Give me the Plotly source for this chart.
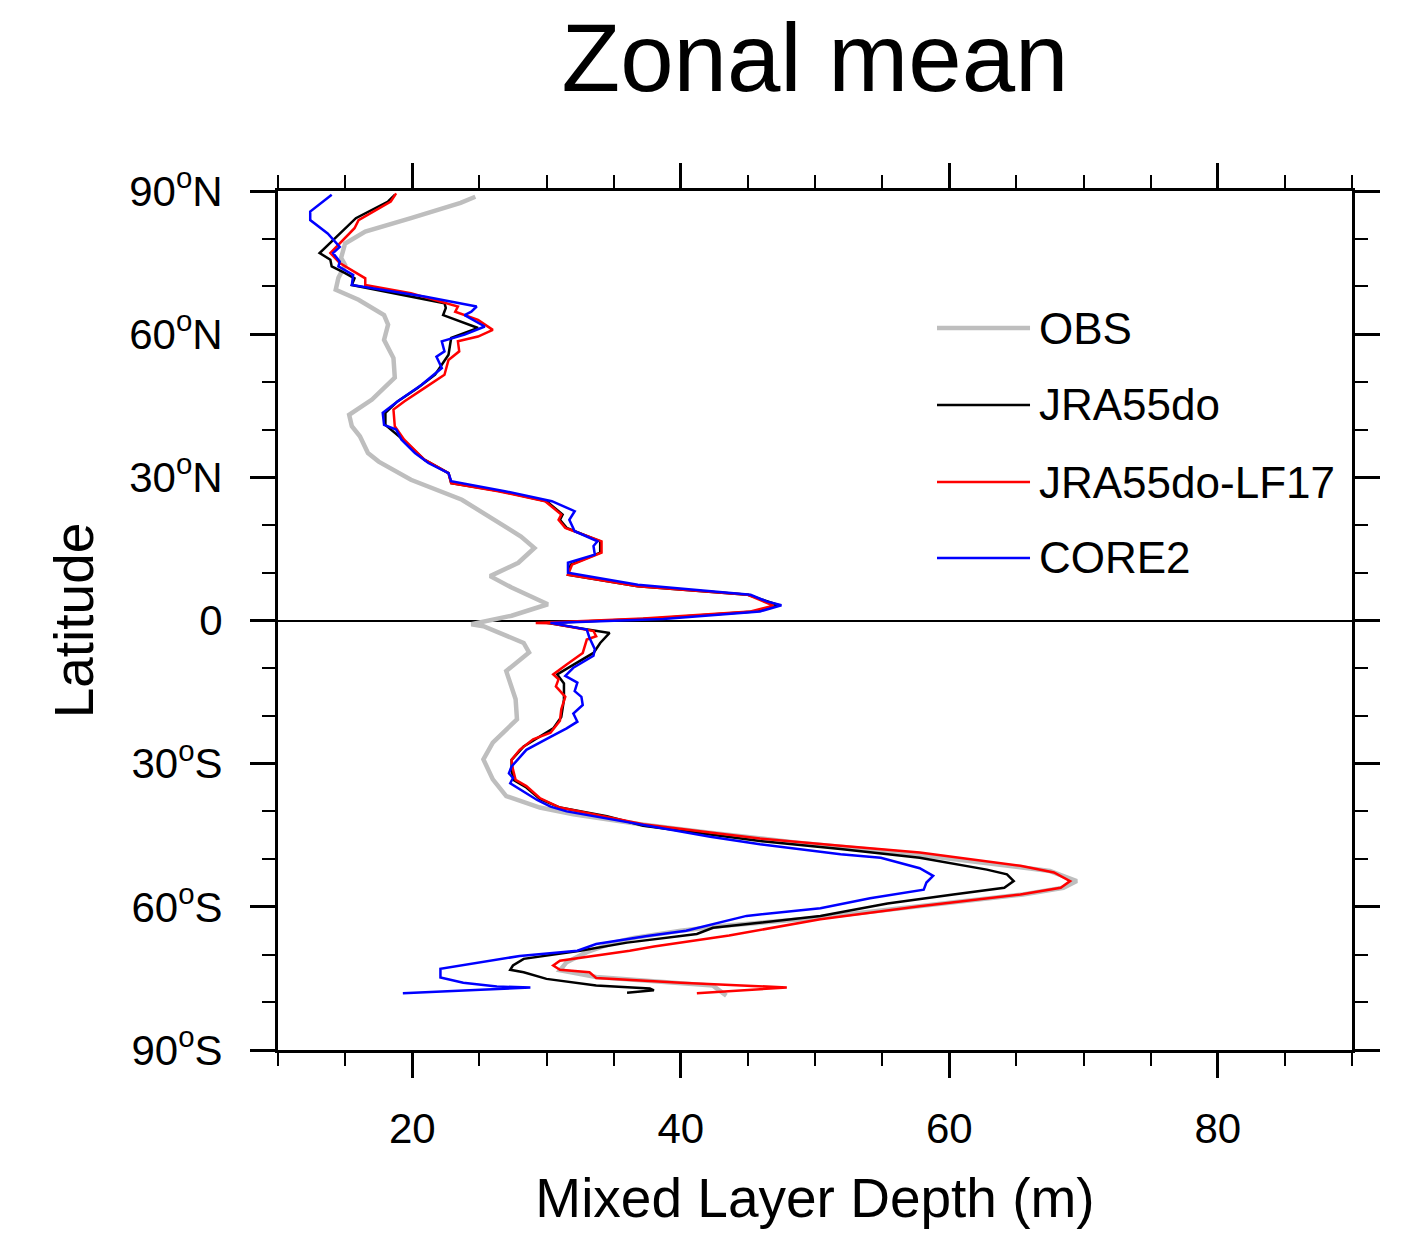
import plotly.graph_objects as go

# ---------------- data (latitude in degrees, MLD in m) ----------------
obs_lat = [88.8, 87.5, 84.3, 81.5, 79.0, 76.0, 74.5, 71.8, 69.3, 67.2, 64.0, 62.0, 58.8, 55.0, 50.9,
           46.3, 43.1, 40.7, 38.6, 35.1, 33.3, 29.5, 25.3, 21.1, 17.6, 15.2, 12.1, 9.3, 6.9, 3.4, 1.0,
           -0.8, -1.2, -4.7, -6.7, -10.6, -12.3, -16.5, -20.7, -25.6, -29.1, -33.3, -36.8, -39.2, -40.6,
           -42.7, -44.4, -46.5, -48.5, -50.5, -52.5, -54.6, -56.0, -57.4, -60.0, -62.5, -64.0, -65.0,
           -66.5, -67.5, -69.5, -71.6, -73.3, -74.7, -76.5, -78.6]
obs_mld = [24.7, 23.6, 19.9, 16.5, 15.0, 14.7, 15.0, 14.5, 14.3, 16.0, 17.9, 18.2, 17.9, 18.6, 18.7,
           17.0, 15.3, 15.5, 16.1, 16.7, 17.5, 19.9, 23.7, 26.1, 28.1, 29.1, 27.9, 25.8, 27.4, 30.1, 27.4,
           24.4, 25.3, 28.3, 28.7, 27.0, 27.2, 27.7, 27.8, 26.0, 25.3, 26.0, 27.0, 29.5, 32.0,
           37.0, 42.0, 48.5, 56.0, 62.0, 67.5, 69.5, 68.5, 65.5, 57.5, 49.5, 43.0, 40.0,
           36.5, 35.0, 33.0, 31.5, 31.0, 33.7, 42.4, 43.4]

jra_lat = [89.2, 87.8, 84.3, 82.2, 80.1, 77.0, 75.6, 74.2, 72.8, 71.7, 70.3, 68.2, 66.5, 65.5, 64.0,
           61.3, 59.2, 55.7, 51.5, 48.7, 45.9, 43.5, 41.0, 37.9, 33.7, 30.9, 28.8, 27.1, 25.0, 22.2,
           21.1, 19.4, 16.6, 14.2, 11.7, 9.6, 7.2, 5.4, 3.2, 1.9, 0.4, -0.5, -2.6, -4.7, -6.8, -9.6,
           -11.3, -13.2, -16.6, -20.2, -22.6, -26.4, -29.2, -31.5, -33.5, -35.0, -37.4, -39.2, -41.0,
           -43.0, -44.8, -46.2, -47.9, -49.7, -52.2, -53.2, -54.6, -56.0, -57.4, -59.3, -61.9, -63.5,
           -64.4, -65.7, -67.5, -69.2, -70.9, -72.3, -73.2, -73.7, -75.1, -76.5, -77.1, -77.5, -78.0]
jra_mld = [18.7, 18.2, 15.8, 15.0, 14.2, 13.1, 13.9, 14.0, 15.0, 15.7, 15.5, 19.4, 22.4, 22.5, 22.3,
           24.9, 22.9, 22.7, 21.7, 20.4, 18.9, 18.0, 18.0, 19.3, 20.9, 22.7, 22.9, 26.6, 30.0, 31.2,
           31.0, 31.5, 34.0, 34.0, 31.8, 31.6, 36.8, 45.0, 47.3, 45.5, 38.0, 30.0, 34.7, 34.0, 33.5, 31.8,
           30.8, 31.3, 31.3, 31.1, 30.5, 28.3, 27.4, 27.4, 27.6, 28.5, 29.5, 31.0, 34.5,
           37.2, 42.2, 45.9, 51.9, 57.8, 62.8, 64.3, 64.8, 64.1, 60.3, 55.4, 50.4, 45.0,
           42.4, 41.2, 36.0, 32.5, 28.3, 27.5, 27.3, 28.3, 30.0, 33.7, 37.7, 38.0, 36.0]

lf17_lat = [89.5, 87.8, 83.9, 82.2, 77.0, 74.9, 71.7, 70.3, 68.6, 65.8, 64.7, 63.0, 60.9, 59.5, 58.5,
            56.4, 54.6, 51.5, 48.7, 45.9, 44.2, 40.7, 37.9, 33.7, 30.9, 28.8, 27.1, 25.0, 22.2, 21.1,
            19.4, 16.6, 14.2, 11.7, 9.6, 7.2, 5.4, 3.1, 1.9, 0.4, -0.5, -0.6, -2.2, -3.3, -4.0, -6.8,
            -9.2, -11.3, -12.3, -13.8, -16.0, -18.6, -21.0, -23.5, -24.9, -27.1, -29.2, -31.2, -33.4,
            -34.7, -37.2, -39.2, -40.6, -42.7, -44.4, -45.7, -47.2, -48.6, -51.4, -52.8, -54.6, -56.0,
            -57.4, -59.9, -62.6, -65.4, -66.0, -68.3, -69.2, -71.3, -72.3, -73.2, -73.7, -74.9, -75.9,
            -76.9, -78.1]
lf17_mld = [18.8, 18.4, 16.0, 15.7, 13.9, 14.6, 16.5, 16.5, 19.9, 23.4, 23.2, 24.9, 26.0, 24.9, 23.4,
            23.5, 22.7, 22.4, 20.9, 19.4, 18.6, 18.7, 19.4, 20.9, 22.7, 22.9, 26.4, 29.9, 31.1, 30.9,
            31.4, 34.1, 34.1, 31.9, 31.6, 36.8, 45.0, 46.9, 45.2, 37.2, 29.2, 30.3, 33.5, 33.7, 33.0, 32.7,
            31.5, 30.5, 30.9, 30.7, 31.4, 31.1, 31.0, 30.3, 29.0, 28.0, 27.4, 27.5, 27.7,
            28.5, 29.5, 31.0, 33.5, 37.2, 42.2, 45.9, 51.9, 57.8, 65.3, 67.8, 69.0, 68.3,
            65.3, 57.8, 50.4, 44.9, 43.6, 38.0, 36.2, 31.0, 30.5, 31.0, 33.2, 33.7, 40.0,
            47.9, 41.2]

core_lat = [89.2, 85.7, 83.9, 81.1, 78.3, 77.0, 75.2, 74.2, 72.4, 70.3, 67.9, 65.8, 64.7, 64.0, 61.6,
            59.9, 58.5, 56.4, 55.3, 52.9, 49.4, 45.9, 43.5, 41.0, 40.0, 37.9, 35.1, 33.0, 30.9, 29.2,
            27.1, 25.0, 22.9, 21.1, 18.7, 16.6, 15.6, 13.8, 12.1, 10.0, 7.5, 5.4, 4.0, 3.2, 1.9, 0.9, 0.3,
            -0.5, -1.9, -3.6, -6.0, -7.4, -9.9, -11.6, -13.0, -14.8, -16.0, -17.7, -19.5, -21.2, -22.6,
            -24.4, -27.1, -30.6, -32.0, -33.0, -34.1, -37.6, -39.0, -40.0, -42.7, -45.3, -46.9, -49.0,
            -49.7, -51.9, -53.5, -54.9, -56.4, -58.2, -60.3, -61.9, -65.0, -66.1, -67.8, -69.2, -70.3,
            -72.0, -73.0, -74.8, -75.9, -76.7, -76.9, -77.4, -78.1]
core_mld = [14.0, 12.4, 12.4, 13.7, 14.6, 14.1, 14.6, 14.5, 15.6, 15.5, 20.9, 24.8, 24.4, 23.9, 25.4,
            23.9, 22.2, 22.4, 21.8, 22.2, 20.7, 18.9, 17.8, 17.9, 18.8, 19.2, 20.2, 21.2, 22.7, 22.9,
            26.9, 30.4, 32.1, 31.7, 32.1, 33.8, 33.5, 33.6, 31.6, 31.6, 36.8, 45.2, 46.4, 47.5, 45.9, 41.4, 38.7,
            30.3, 33.0, 33.2, 33.6, 33.5, 32.0, 31.4, 32.3, 32.1, 32.6, 32.7, 32.0, 32.3, 31.5,
            30.3, 28.5, 27.4, 27.2, 27.5, 27.3, 29.3, 30.3, 31.5, 37.0, 42.2, 45.9, 51.9,
            54.9, 57.8, 58.8, 58.3, 58.1, 54.1, 50.4, 44.9, 40.4, 37.5, 33.7, 32.3, 28.0,
            24.1, 22.1, 22.1, 23.8, 26.3, 28.8, 25.1, 19.3]

series_names = ["OBS", "JRA55do", "JRA55do-LF17", "CORE2"]
series_colors = ["#BEBEBE", "#000000", "#FF0000", "#0000FF"]
series_widths = [4.5, 2.5, 2.5, 2.5]

lat_tickvals = [-90, -60, -30, 0, 30, 60, 90]
lat_ticktext = ["90<sup>o</sup>S", "60<sup>o</sup>S", "30<sup>o</sup>S", "0",
                "30<sup>o</sup>N", "60<sup>o</sup>N", "90<sup>o</sup>N"]

FONT = "Liberation Sans, Arial, Helvetica, sans-serif"

fig = go.Figure()
all_x = [obs_mld, jra_mld, lf17_mld, core_mld]
all_y = [obs_lat, jra_lat, lf17_lat, core_lat]
for name, xs, ys, col, w in zip(series_names, all_x, all_y, series_colors, series_widths):
    fig.add_trace(go.Scatter(x=xs, y=ys, mode="lines", name=name,
                             line=dict(color=col, width=w), showlegend=False))

# manual legend (long line samples like the original)
leg_y = [0.8405, 0.7509, 0.6612, 0.5728]
for name, col, w, yy in zip(series_names, series_colors, series_widths, leg_y):
    fig.add_shape(type="line", xref="paper", yref="paper", x0=0.6136, x1=0.7002,
                  y0=yy, y1=yy, line=dict(color=col, width=w))
    fig.add_annotation(xref="paper", yref="paper", x=0.7065, y=yy, text=name,
                       showarrow=False, xanchor="left", yanchor="middle",
                       font=dict(family=FONT, size=44, color="black"))

axis_common = dict(showgrid=False, showline=True, linecolor="black", linewidth=3,
                   ticks="outside", ticklen=25, tickwidth=3, tickcolor="black",
                   mirror="ticks",
                   tickfont=dict(family=FONT, size=42, color="black"))

fig.update_layout(
    width=1409, height=1239,
    margin=dict(l=278, r=57, t=191, b=189, autoexpand=False),
    paper_bgcolor="white", plot_bgcolor="white",
    title=dict(text="Zonal mean", x=0.5, xref="paper", xanchor="center",
               y=1 - 57 / 1239, yref="container", yanchor="middle",
               font=dict(family=FONT, size=96, color="black")),
    xaxis=dict(range=[10, 90], tickmode="linear", tick0=0, dtick=20, zeroline=False,
               ticklabelstandoff=15,
               minor=dict(tickmode="linear", tick0=0, dtick=5, ticks="outside",
                          ticklen=13, tickwidth=2, tickcolor="black"),
               title=dict(text="Mixed Layer Depth (m)", standoff=28,
                          font=dict(family=FONT, size=55, color="black")),
               **axis_common),
    yaxis=dict(range=[-90, 90], tickmode="array", tickvals=lat_tickvals, ticktext=lat_ticktext,
               zeroline=True, zerolinecolor="black", zerolinewidth=2,
               ticklabelstandoff=19,
               minor=dict(tickmode="linear", tick0=0, dtick=10, ticks="outside",
                          ticklen=13, tickwidth=2, tickcolor="black"),
               title=dict(text="Latitude", standoff=18,
                          font=dict(family=FONT, size=55, color="black")),
               **axis_common),
)

fig.write_html("out.html")
